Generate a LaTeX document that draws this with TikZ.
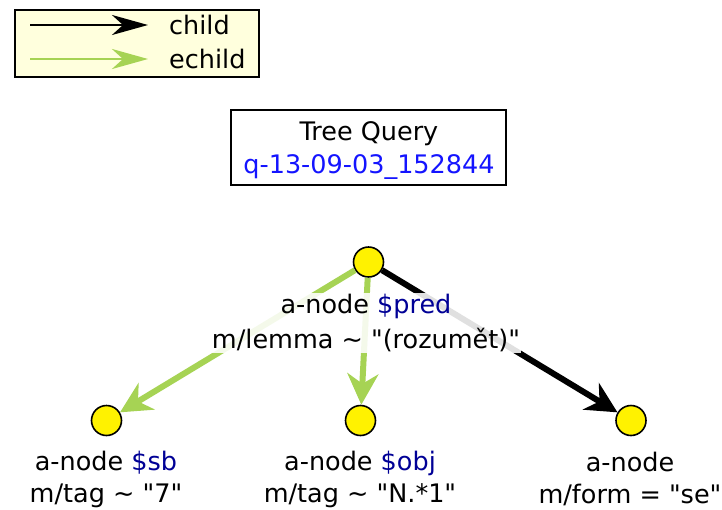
\documentclass[tikz,border=0pt]{standalone}
\usepackage{fontspec}
\newfontfamily\djv{DejaVu Sans}
\usetikzlibrary{arrows.meta}
\definecolor{egreen}{RGB}{166,211,84}
\definecolor{legbg}{RGB}{255,255,221}
\definecolor{qblue}{RGB}{20,20,255}
\definecolor{vblue}{RGB}{0,0,150}
\begin{document}
\begin{tikzpicture}[x=1pt,y=-1pt,
  every node/.style={font=\djv\fontsize{25.5}{33}\selectfont},
  qnode/.style={draw=black, line width=1.6pt, fill=yellow, circle, minimum size=30pt, inner sep=0pt},
  qlabel/.style={align=center, fill=white, fill opacity=0.88, text opacity=1, inner sep=1pt},
  childedge/.style={draw=black, line width=6pt, -{Stealth[length=31pt,width=31pt,inset=10pt]}},
  echildedge/.style={draw=egreen, line width=6pt, -{Stealth[length=31pt,width=31pt,inset=10pt]}},
  legchild/.style={draw=black, line width=2.6pt, -{Stealth[length=36pt,width=20pt,inset=11pt]}},
  legechild/.style={draw=egreen, line width=2.6pt, -{Stealth[length=36pt,width=20pt,inset=11pt]}},
  box/.style={draw=black, line width=1.7pt}
]
\useasboundingbox (0,0) rectangle (722,509);
% legend
\node[box, fill=legbg, minimum width=244pt, minimum height=67pt, inner sep=0pt] (legend) at (137,43.5) {};
\coordinate (l1a) at (30,25);
\coordinate (l1b) at (148,25);
\coordinate (l2a) at (30,59);
\coordinate (l2b) at (148,59);
\draw[legchild] (l1a) -- (l1b);
\draw[legechild] (l2a) -- (l2b);
\node[anchor=west, inner sep=0pt] (lt1) at (169,25) {child};
\node[anchor=west, inner sep=0pt] (lt2) at (169,59) {echild};
% title
\node[box, fill=white, minimum width=275pt, minimum height=75pt, inner sep=0pt] (title) at (368.5,147.5) {};
\node[align=center, inner sep=0pt] (titletext) at (369,150.5) {Tree Query\\\textcolor{qblue}{q-13-09-03\_152844}};
% tree nodes
\node[qnode] (root) at (368.5,262) {};
\node[qnode] (sb) at (106.5,420.5) {};
\node[qnode] (obj) at (360.5,420.5) {};
\node[qnode] (se) at (631,420.5) {};
% edges
\draw[echildedge] (root) -- (sb);
\draw[echildedge] (root) -- (obj);
\draw[childedge] (root) -- (se);
% labels
\node[qlabel, font=\djv\fontsize{25.5}{35}\selectfont] (rootlab) at (366,323) {a-node \textcolor{vblue}{\$pred}\\m/lemma \textasciitilde{} "(rozumět)"};
\node[qlabel, font=\djv\fontsize{25.5}{32}\selectfont] (sblab) at (106,479) {a-node \textcolor{vblue}{\$sb}\\m/tag \textasciitilde{} "7"};
\node[qlabel, font=\djv\fontsize{25.5}{32}\selectfont] (objlab) at (360,479) {a-node \textcolor{vblue}{\$obj}\\m/tag \textasciitilde{} "N.*1"};
\node[qlabel, font=\djv\fontsize{25.5}{32}\selectfont] (selab) at (630,478.5) {a-node\\m/form = "se"};
\end{tikzpicture}
\end{document}
